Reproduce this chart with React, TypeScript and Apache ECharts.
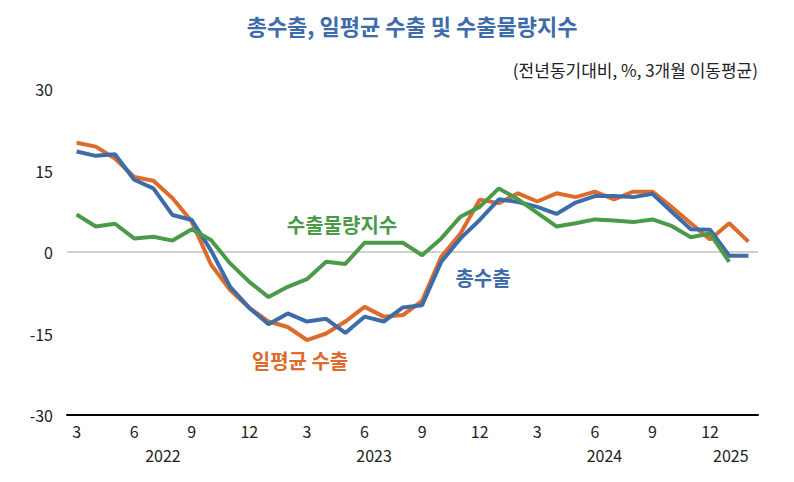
import React, { useEffect, useRef } from "react";
import * as echarts from "echarts";

const months: string[] = [];
for (let y = 2022; y <= 2025; y++) {
  for (let m = 1; m <= 12; m++) {
    if ((y === 2022 && m < 3) || (y === 2025 && m > 2)) continue;
    months.push(`${y}.${m}`);
  }
}

const totalExports = [
  18.5, 17.7, 18.0, 13.3, 11.7, 6.8, 5.9, 0.3, -6.4, -10.3, -13.3, -11.3,
  -12.8, -12.3, -14.9, -11.9, -12.8, -10.2, -9.8, -1.8, 2.5, 5.9, 9.7, 9.2,
  8.3, 7.0, 9.1, 10.3, 10.3, 10.1, 10.7, 7.4, 4.2, 4.1, -0.7, -0.7,
];
const dailyAvgExports = [
  20.1, 19.4, 17.2, 13.8, 13.1, 9.9, 5.6, -2.3, -7.0, -10.3, -12.8, -13.8,
  -16.2, -15.0, -12.8, -10.1, -11.9, -11.6, -9.0, -0.9, 3.4, 9.6, 9.0, 10.8,
  9.3, 10.8, 10.1, 11.1, 9.7, 11.1, 11.1, 8.3, 5.3, 2.3, 5.3, 1.9,
];
const volumeIndex: (number | null)[] = [
  6.9, 4.7, 5.2, 2.5, 2.8, 2.1, 4.2, 2.2, -2.1, -5.5, -8.3, -6.4,
  -5.0, -1.8, -2.2, 1.7, 1.7, 1.7, -0.6, 2.5, 6.5, 8.3, 11.7, 9.7,
  7.2, 4.7, 5.3, 6.0, 5.8, 5.5, 6.0, 4.8, 2.7, 3.4, -1.8, null,
];
const years = ["2022", "2023", "2024", "2025"];
const yTicks = { min: -30, max: 30, interval: 15 };

const BLUE = "#3d6ca9";
const ORANGE = "#dd6b2c";
const GREEN = "#4b9a4a";
const FONT = "'Noto Sans CJK KR', 'Noto Sans', sans-serif";

export default function App() {
  const ref = useRef<HTMLDivElement>(null);
  useEffect(() => {
    document.body.style.margin = "0";
    const chart = echarts.init(ref.current!, null, { renderer: "svg" });
    chart.setOption({
      animation: false,
      textStyle: { fontFamily: FONT },
      grid: { left: 67, right: 36, top: 89, bottom: 67, containLabel: false },
      title: {
        text: "총수출, 일평균 수출 및 수출물량지수",
        left: 407,
        textAlign: "center",
        top: 9,
        textStyle: { color: BLUE, fontSize: 22, fontWeight: "bold", fontFamily: FONT },
      },
      xAxis: {
        type: "category",
        data: months,
        boundaryGap: true,
        axisLine: { onZero: false, lineStyle: { color: "#000", width: 2 } },
        axisTick: { show: false },
        axisLabel: {
          interval: (i: number) => Number(months[i].split(".")[1]) % 3 === 0,
          formatter: (v: string) => v.split(".")[1],
          color: "#222",
          fontSize: 16,
          margin: 8,
          fontFamily: FONT,
        },
      },
      yAxis: {
        type: "value",
        min: yTicks.min,
        max: yTicks.max,
        interval: yTicks.interval,
        axisLine: { show: false },
        axisTick: { show: false },
        splitLine: {
          show: true,
          lineStyle: {
            color: ["transparent", "transparent", "#c0c0c0", "transparent", "transparent"],
            width: 1.5,
          },
        },
        axisLabel: { color: "#222", fontSize: 16, margin: 14, fontFamily: FONT },
      },
      series: [
        {
          name: "총수출",
          type: "line",
          data: totalExports,
          showSymbol: false,
          lineStyle: { color: BLUE, width: 4 },
          itemStyle: { color: BLUE },
          z: 3,
        },
        {
          name: "일평균 수출",
          type: "line",
          data: dailyAvgExports,
          showSymbol: false,
          lineStyle: { color: ORANGE, width: 4 },
          itemStyle: { color: ORANGE },
          z: 2,
        },
        {
          name: "수출물량지수",
          type: "line",
          data: volumeIndex,
          showSymbol: false,
          lineStyle: { color: GREEN, width: 4 },
          itemStyle: { color: GREEN },
          z: 4,
        },
      ],
    });

    const yearGraphics = years.map((yr) => {
      const idx = months
        .map((m, i) => (m.startsWith(yr + ".") ? i : -1))
        .filter((i) => i >= 0);
      const a = chart.convertToPixel({ xAxisIndex: 0 }, months[idx[0]]) as number;
      const b = chart.convertToPixel({ xAxisIndex: 0 }, months[idx[idx.length - 1]]) as number;
      let cx = (a + b) / 2;
      if (yr === "2025") cx -= 8;
      return {
        type: "text",
        x: cx,
        y: 455,
        style: {
          text: yr,
          fill: "#222",
          font: `16px ${FONT}`,
          textAlign: "center",
          textVerticalAlign: "middle",
        },
      };
    });

    const note = (text: string, x: number, y: number, color: string) => ({
      type: "text",
      x,
      y,
      style: {
        text,
        fill: color,
        font: `bold 20px ${FONT}`,
        textAlign: "center",
        textVerticalAlign: "middle",
      },
    });

    chart.setOption({
      graphic: [
        ...yearGraphics,
        {
          type: "text",
          right: 36,
          top: 61,
          style: {
            text: "(전년동기대비, %, 3개월 이동평균)",
            fill: "#222",
            font: `17px ${FONT}`,
          },
        },
        note("수출물량지수", 342, 224, GREEN),
        note("총수출", 483, 277, BLUE),
        note("일평균 수출", 300, 360, ORANGE),
      ],
    });

    return () => chart.dispose();
  }, []);
  return <div ref={ref} style={{ width: 794, height: 482 }} />;
}
